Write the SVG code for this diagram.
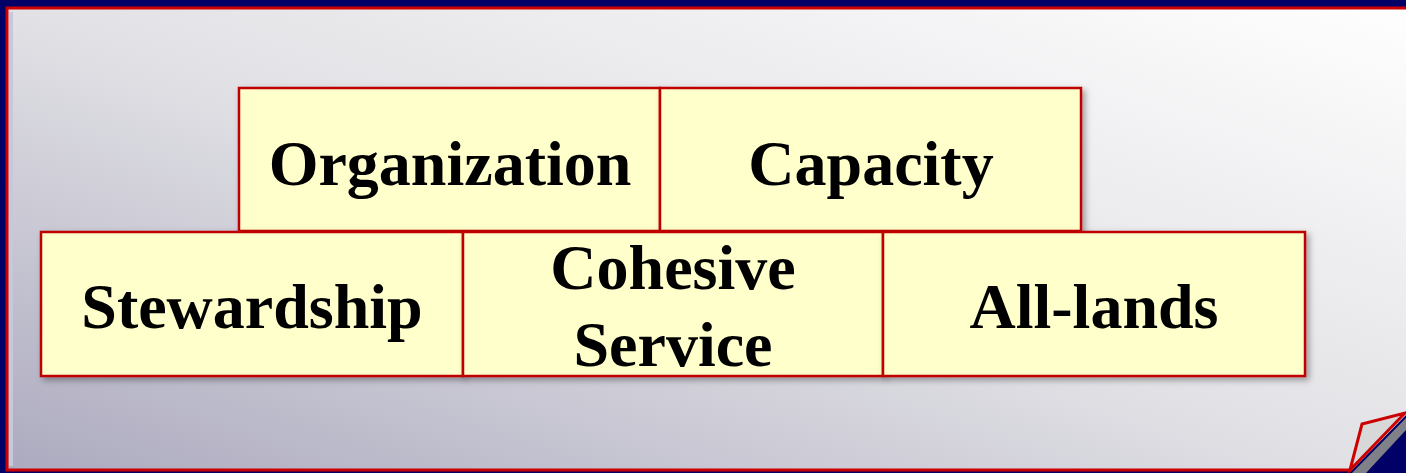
<svg xmlns="http://www.w3.org/2000/svg" width="1406" height="473" viewBox="0 0 1406 473">
  <defs>
    <linearGradient id="bg" x1="561" y1="662" x2="845" y2="-190" gradientUnits="userSpaceOnUse">
      <stop offset="0" stop-color="#aba9be"/>
      <stop offset="0.5" stop-color="#e2e2e6"/>
      <stop offset="1" stop-color="#ffffff"/>
    </linearGradient>
    <filter id="sh" x="-10%" y="-10%" width="120%" height="130%">
      <feDropShadow dx="3" dy="3" stdDeviation="3" flood-color="#000" flood-opacity="0.35"/>
    </filter>
    <style>
      .box{fill:#ffffcc;stroke:#c00000;stroke-width:2.5}
      .lbl{font-family:"Liberation Serif","Times New Roman",serif;font-weight:bold;font-size:64px;fill:#000;text-anchor:middle}
    </style>
  </defs>
  <rect x="0" y="0" width="1406" height="473" fill="#000066"/>
  <path d="M7,8 H1406 V415 L1352,470 H7 Z" fill="url(#bg)"/>
  <polyline points="1406,8 7,8 7,470 1352,470" fill="none" stroke="#cc0000" stroke-width="3"/>
  <line x1="11" y1="12" x2="11" y2="466" stroke="#c8c8dc" stroke-width="4"/>
  <path d="M1352,473 L1406,418 V430 L1366,473 Z" fill="#808088"/>
  <path d="M1350,470 L1362,424 L1405,413 Z" fill="#d8d8d8" stroke="#cc0000" stroke-width="3" stroke-linejoin="miter"/>
  <g id="organization" filter="url(#sh)">
    <rect class="box" x="239" y="88" width="421" height="143"/>
    <text class="lbl" x="450" y="185">Organization</text>
  </g>
  <g id="capacity" filter="url(#sh)">
    <rect class="box" x="660" y="88" width="421" height="143"/>
    <text class="lbl" x="871" y="185">Capacity</text>
  </g>
  <g id="stewardship" filter="url(#sh)">
    <rect class="box" x="41" y="232" width="422" height="144"/>
    <text class="lbl" x="252" y="328">Stewardship</text>
  </g>
  <g id="cohesive-service" filter="url(#sh)">
    <rect class="box" x="463" y="232" width="420" height="144"/>
    <text class="lbl" x="673" y="289">Cohesive</text>
    <text class="lbl" x="673" y="366">Service</text>
  </g>
  <g id="all-lands" filter="url(#sh)">
    <rect class="box" x="883" y="232" width="422" height="144"/>
    <text class="lbl" x="1094" y="328">All-lands</text>
  </g>
  <g id="connectors"/>
</svg>
